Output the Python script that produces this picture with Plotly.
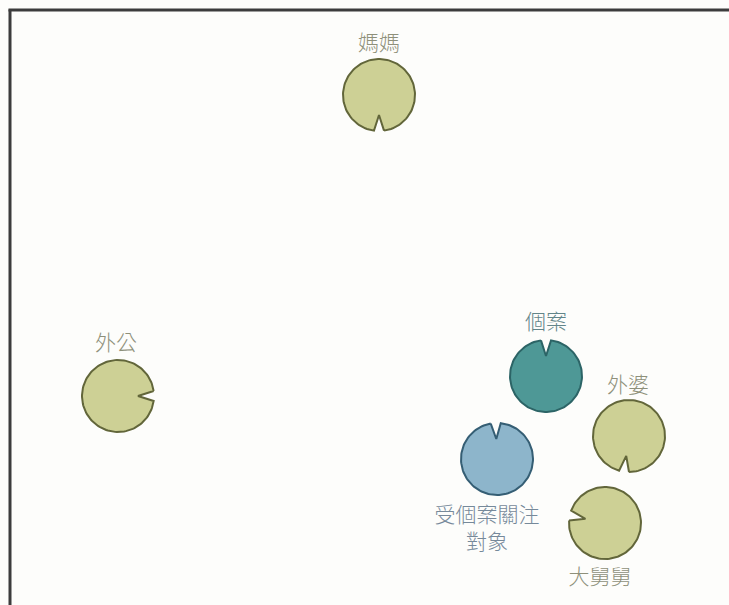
import numpy as np
import plotly.graph_objects as go

# Node data (pixel-space layout of the diagram)
names = ["媽媽", "外公", "個案", "外婆", "受個案關注對象", "大舅舅"]
labels = ["媽媽", "外公", "個案", "外婆", "受個案關注<br>對象", "大舅舅"]
cx = [379, 118, 546, 629, 497, 605]
cy = [95, 396, 376, 436, 459, 523]
notch_deg = [270, 0, 90, 262, 92, 168]
label_x = [379, 116, 546, 628, 487, 600]
label_y = [45, 345, 324, 387, 530, 579]
fills = ["#cdd095", "#cdd095", "#4e9896", "#cdd095", "#8db5cb", "#cdd095"]
lines = ["#62663a", "#62663a", "#2c6466", "#62663a", "#355e74", "#62663a"]
text_colors = ["#8e907a", "#8e907a", "#628589", "#8e907a", "#76899a", "#8e907a"]

R = 36
DEPTH = 16
HALF = 8  # degrees

fig = go.Figure()

for i in range(len(names)):
    a = np.deg2rad(notch_deg[i])
    h = np.deg2rad(HALF)
    t = np.linspace(a + h, a + 2 * np.pi - h, 120)
    xs = list(cx[i] + R * np.cos(t))
    ys = list(cy[i] - R * np.sin(t))
    xs.append(cx[i] + (R - DEPTH) * np.cos(a))
    ys.append(cy[i] - (R - DEPTH) * np.sin(a))
    xs.append(xs[0])
    ys.append(ys[0])
    fig.add_trace(go.Scatter(x=xs, y=ys, mode="lines", fill="toself",
                             fillcolor=fills[i],
                             line=dict(color=lines[i], width=2),
                             hoverinfo="skip", showlegend=False))

fig.add_trace(go.Scatter(x=label_x, y=label_y, mode="text", text=labels,
                         textfont=dict(family="Noto Sans CJK TC", size=21,
                                       color=text_colors, weight=300),
                         hoverinfo="skip", showlegend=False))

# frame
fig.add_shape(type="line", x0=10, y0=9.5, x1=10, y1=606,
              line=dict(color="#3c3c3c", width=3))
fig.add_shape(type="line", x0=8.5, y0=10, x1=730, y1=10,
              line=dict(color="#3c3c3c", width=3))

fig.update_xaxes(range=[0, 729], visible=False, fixedrange=True)
fig.update_yaxes(range=[605, 0], visible=False, fixedrange=True)
fig.update_layout(width=729, height=605, margin=dict(l=0, r=0, t=0, b=0),
                  paper_bgcolor="#fdfdfb", plot_bgcolor="#fdfdfb")

fig.write_html("out.html", config={"displayModeBar": False},
               post_script="document.body.style.margin='0';document.body.style.overflow='hidden';")
